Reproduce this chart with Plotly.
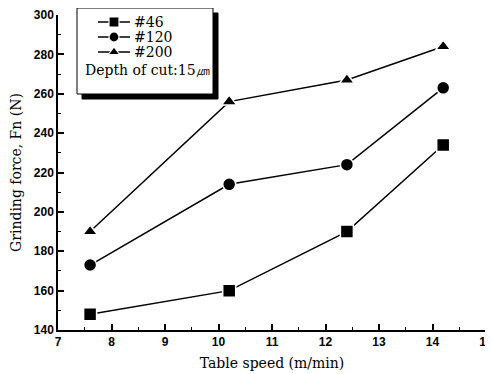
import plotly.graph_objects as go

table_speed = [7.6, 10.2, 12.4, 14.2]
force_46 = [148, 160, 190, 234]
force_120 = [173, 214, 224, 263]
force_200 = [190, 256, 267, 284]
series_names = ["#46", "#120", "#200"]
symbols = ["square", "circle", "triangle-up"]
note_text = "Depth of cut:15㎛"

serif = "DejaVu Serif, Liberation Serif, serif"
sans = "Liberation Sans, Arial, sans-serif"

# page body has an 8px margin: figure is placed at (8, 8) in the window
OFF = 8
W, H = 493 - OFF, 374 - OFF
# plot area in window pixels
PX0, PX1, PY0, PY1 = 58, 486, 15, 330
L, R, T, B = PX0 - OFF, W - (PX1 - OFF), PY0 - OFF, H - (PY1 - OFF)
pw, ph = PX1 - PX0, PY1 - PY0

fig = go.Figure()
for name, vals, sym in zip(series_names, [force_46, force_120, force_200], symbols):
    fig.add_trace(go.Scatter(
        x=table_speed, y=vals, name=name, mode="lines+markers", showlegend=False,
        line=dict(color="black", width=1.5),
        marker=dict(symbol=sym, size=13, color="black",
                    line=dict(color="white", width=1.5)),
    ))

# legend samples drawn on an invisible overlay axis scaled in window pixels
leg_x = [98, 114, 130]
leg_y = [22, 37, 52]
for name, sym, yy in zip(series_names, symbols, leg_y):
    fig.add_trace(go.Scatter(
        x=leg_x, y=[yy] * 3, mode="lines", xaxis="x2", yaxis="y2",
        showlegend=False, hoverinfo="skip", cliponaxis=False,
        line=dict(color="black", width=1.5)))
    fig.add_trace(go.Scatter(
        x=[leg_x[1]], y=[yy], mode="markers", xaxis="x2", yaxis="y2",
        showlegend=False, hoverinfo="skip", cliponaxis=False,
        marker=dict(symbol=sym, size=10, color="black",
                    line=dict(color="white", width=1.2))))

def px(xp):
    return (xp - PX0) / pw

def py(yp):
    return (PY1 - yp) / ph

bx0, bx1, by0, by1 = 77, 213, 8, 94  # legend box, window pixels
s = 5
shapes = [
    dict(type="rect", xref="paper", yref="paper",
         x0=px(bx0 + s), x1=px(bx1 + s), y0=py(by1 + s), y1=py(by0 + s),
         fillcolor="black", line=dict(color="black", width=1), layer="below"),
    dict(type="rect", xref="paper", yref="paper",
         x0=px(bx0), x1=px(bx1), y0=py(by1), y1=py(by0),
         fillcolor="white", line=dict(color="black", width=1), layer="below"),
]

annotations = [dict(text=n, xref="paper", yref="paper", x=px(132), y=py(yy),
                    xanchor="left", yanchor="middle", showarrow=False,
                    font=dict(family=serif, size=14, color="black"))
               for n, yy in zip(series_names, leg_y)]
annotations.append(dict(text=note_text, xref="paper", yref="paper",
                        x=px(83), y=py(70), xanchor="left", yanchor="middle",
                        showarrow=False,
                        font=dict(family=serif, size=14, color="black")))

fig.update_layout(
    width=W, height=H,
    margin=dict(l=L, r=R, t=T, b=B, autoexpand=False),
    paper_bgcolor="white", plot_bgcolor="rgba(0,0,0,0)",
    showlegend=False,
    shapes=shapes,
    annotations=annotations,
    xaxis=dict(range=[7, 15], dtick=1, tick0=7, automargin=False,
               showline=True, linecolor="black", linewidth=1.5,
               ticks="inside", ticklen=6, tickwidth=1.5, tickcolor="black",
               minor=dict(dtick=0.5, ticks="inside", ticklen=3, tickcolor="black", tickwidth=1),
               showgrid=False, zeroline=False, ticklabeloverflow="allow",
               tickfont=dict(family=sans, size=12, color="black", weight="bold"),
               title=dict(text="Table speed (m/min)", standoff=10,
                          font=dict(family=serif, size=14, color="black"))),
    yaxis=dict(range=[140, 300], dtick=20, tick0=140, automargin=False,
               showline=True, linecolor="black", linewidth=1.5,
               ticks="inside", ticklen=6, tickwidth=1.5, tickcolor="black",
               minor=dict(dtick=10, ticks="inside", ticklen=3, tickcolor="black", tickwidth=1),
               showgrid=False, zeroline=False, ticklabeloverflow="allow",
               tickfont=dict(family=sans, size=12, color="black", weight="bold"),
               title=dict(text="Grinding force, Fn (N)", standoff=11,
                          font=dict(family=serif, size=14, color="black"))),
    xaxis2=dict(overlaying="x", anchor="y2", range=[PX0, PX1], visible=False,
                fixedrange=True),
    yaxis2=dict(overlaying="y", anchor="x2", range=[PY1, PY0], visible=False,
                fixedrange=True),
)

fig.write_html("out.html")
